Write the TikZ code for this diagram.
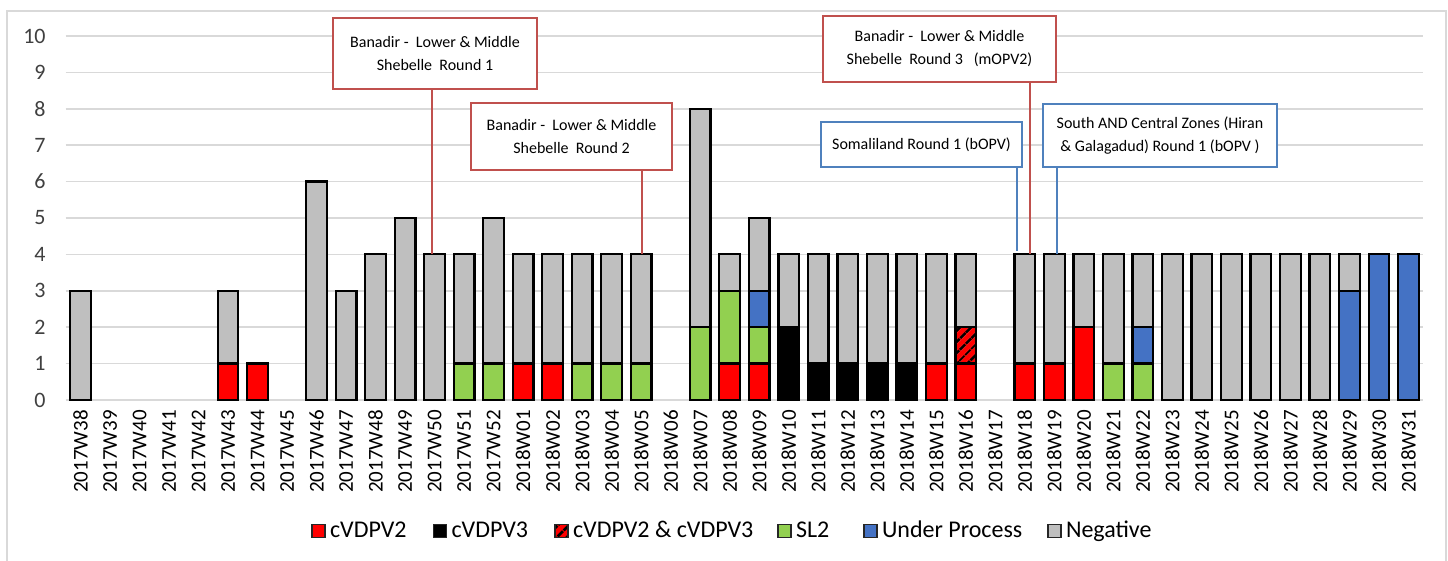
\documentclass[tikz,border=0pt]{standalone}
\usepackage{fontspec}
\setmainfont{Carlito}
\usepackage{tikz}
\usetikzlibrary{positioning}
\usetikzlibrary{patterns.meta}
\usepackage{xcolor}

\definecolor{cvred}{RGB}{255,0,0}
\definecolor{slgreen}{RGB}{146,208,80}
\definecolor{upblue}{RGB}{68,114,196}
\definecolor{neggray}{RGB}{191,191,191}
\definecolor{gridgray}{RGB}{217,217,217}
\definecolor{boxred}{RGB}{192,80,77}
\definecolor{boxblue}{RGB}{79,129,189}

% one piece of a stacked bar: index, bottom, height, style
\newcommand\barpiece[4]{\ifnum#3>0 \draw[piece,#4] (#1-0.35,#2) rectangle (#1+0.35,#2+#3);\fi}

\begin{document}
\begin{tikzpicture}
[x=0.5pt, y=-0.5pt,
% The piece style is used for every part of a stacked bar
piece/.style={draw=black, line width=1.1pt},
redpiece/.style={fill=cvred},
blackpiece/.style={fill=black},
hatchpiece/.style={preaction={fill=cvred}, pattern={Lines[angle=45, distance=4pt, line width=1.5pt]}, pattern color=black},
greenpiece/.style={fill=slgreen},
bluepiece/.style={fill=upblue},
graypiece/.style={fill=neggray},
% The gridline style is used for the value lines
gridline/.style={draw=gridgray, line width=0.8pt},
ylabel/.style={anchor=east, inner sep=0pt, text=black!75, font=\fontsize{11}{13}\selectfont},
weeklabel/.style={rotate=90, anchor=east, inner sep=0pt, font=\fontsize{10.5}{12}\selectfont},
% The campaign style is used to draw the vaccination rounds
campaign/.style={rectangle, line width=1.1pt, fill=white, align=center, inner sep=3pt, font=\fontsize{8}{11.5}\selectfont},
redcamp/.style={campaign, draw=boxred},
bluecamp/.style={campaign, draw=boxblue},
redlead/.style={draw=boxred, line width=1.1pt},
bluelead/.style={draw=boxblue, line width=1.1pt},
% The legend styles
legendbox/.style={rectangle, draw=black!85, line width=0.6pt, minimum size=6.5pt, inner sep=0pt},
legendtext/.style={inner sep=2pt, text height=8.5pt, text depth=2pt, font=\fontsize{12}{14}\selectfont}
]
\useasboundingbox (0,0) rectangle (1448,561);
\draw[black!15, line width=0.6pt] (7,11) rectangle (1446,563);

% Draw chart
\begin{scope}[shift={(80.5,400)}, x=14.755pt, y=18.2pt]
\foreach \v in {0,...,10}{
  \draw[gridline] (-0.5,\v) -- (45.5,\v);
  \node[ylabel] (y\v) at (-1.17,\v) {\v};
}
\foreach \i/\wk/\vred/\vblk/\vhat/\vsl/\vup/\vneg in {
  0/2017W38/0/0/0/0/0/3, 1/2017W39/0/0/0/0/0/0, 2/2017W40/0/0/0/0/0/0,
  3/2017W41/0/0/0/0/0/0, 4/2017W42/0/0/0/0/0/0, 5/2017W43/1/0/0/0/0/2,
  6/2017W44/1/0/0/0/0/0, 7/2017W45/0/0/0/0/0/0, 8/2017W46/0/0/0/0/0/6,
  9/2017W47/0/0/0/0/0/3, 10/2017W48/0/0/0/0/0/4, 11/2017W49/0/0/0/0/0/5,
  12/2017W50/0/0/0/0/0/4, 13/2017W51/0/0/0/1/0/3, 14/2017W52/0/0/0/1/0/4,
  15/2018W01/1/0/0/0/0/3, 16/2018W02/1/0/0/0/0/3, 17/2018W03/0/0/0/1/0/3,
  18/2018W04/0/0/0/1/0/3, 19/2018W05/0/0/0/1/0/3, 20/2018W06/0/0/0/0/0/0,
  21/2018W07/0/0/0/2/0/6, 22/2018W08/1/0/0/2/0/1, 23/2018W09/1/0/0/1/1/2,
  24/2018W10/0/2/0/0/0/2, 25/2018W11/0/1/0/0/0/3, 26/2018W12/0/1/0/0/0/3,
  27/2018W13/0/1/0/0/0/3, 28/2018W14/0/1/0/0/0/3, 29/2018W15/1/0/0/0/0/3,
  30/2018W16/1/0/1/0/0/2, 31/2018W17/0/0/0/0/0/0, 32/2018W18/1/0/0/0/0/3,
  33/2018W19/1/0/0/0/0/3, 34/2018W20/2/0/0/0/0/2, 35/2018W21/0/0/0/1/0/3,
  36/2018W22/0/0/0/1/1/2, 37/2018W23/0/0/0/0/0/4, 38/2018W24/0/0/0/0/0/4,
  39/2018W25/0/0/0/0/0/4, 40/2018W26/0/0/0/0/0/4, 41/2018W27/0/0/0/0/0/4,
  42/2018W28/0/0/0/0/0/4, 43/2018W29/0/0/0/0/3/1, 44/2018W30/0/0/0/0/4/0,
  45/2018W31/0/0/0/0/4/0}{
  \pgfmathtruncatemacro\ya{\vred}
  \pgfmathtruncatemacro\yb{\ya+\vblk}
  \pgfmathtruncatemacro\yc{\yb+\vhat}
  \pgfmathtruncatemacro\yd{\yc+\vsl}
  \pgfmathtruncatemacro\ye{\yd+\vup}
  \barpiece{\i}{0}{\vred}{redpiece}
  \barpiece{\i}{\ya}{\vblk}{blackpiece}
  \barpiece{\i}{\yb}{\vhat}{hatchpiece}
  \barpiece{\i}{\yc}{\vsl}{greenpiece}
  \barpiece{\i}{\yd}{\vup}{bluepiece}
  \barpiece{\i}{\ye}{\vneg}{graypiece}
  \node[weeklabel] (x\i) at (\i,-0.27) {\wk};
}
% bar tops reached by the rounds
\coordinate (tw50) at (11.91,4);
\coordinate (tw05) at (19.03,4);
\coordinate (tw18r) at (32.18,4);
\coordinate (tw18b) at (31.73,4.08);
\coordinate (tw19) at (33.09,4);
\end{scope}

% Draw rounds
\node[redcamp, minimum width=102pt, minimum height=35.5pt] (round1) at (435,53.5)
  {Banadir - ~Lower \& Middle\\Shebelle ~Round 1};
\node[redcamp, minimum width=100.5pt, minimum height=33.5pt] (round2) at (571.5,136.5)
  {Banadir - ~Lower \& Middle\\Shebelle ~Round 2};
\node[redcamp, minimum width=116.5pt, minimum height=33pt] (round3) at (939.5,49)
  {Banadir - ~Lower \& Middle\\Shebelle ~Round 3 ~~(mOPV2)};
\node[bluecamp, minimum width=100.5pt, minimum height=22.5pt] (soml) at (921.5,144.5)
  {Somaliland Round 1 (bOPV)};
\node[bluecamp, minimum width=117pt, minimum height=31.5pt] (south) at (1160,135.5)
  {South AND Central Zones (Hiran\\ \& Galagadud) Round 1 (bOPV )};
\draw[redlead] (round1.south -| tw50) -- (tw50);
\draw[redlead] (round2.south -| tw05) -- (tw05);
\draw[redlead] (round3.south -| tw18r) -- (tw18r);
\draw[bluelead] (soml.south -| tw18b) -- (tw18b);
\draw[bluelead] (south.south -| tw19) -- (tw19);

% Draw legend
\node[legendbox, redpiece] (kred) at (318.5,531) {};
\node[legendtext, right=0pt of kred] (tred) {cVDPV2};
\node[legendbox, blackpiece] (kblk) at (440,531) {};
\node[legendtext, right=0pt of kblk] (tblk) {cVDPV3};
\node[legendbox, hatchpiece] (khat) at (561.5,531) {};
\node[legendtext, right=0pt of khat] (that) {cVDPV2 \& cVDPV3};
\node[legendbox, greenpiece] (ksl) at (784.5,531) {};
\node[legendtext, right=0pt of ksl] (tsl) {SL2};
\node[legendbox, bluepiece] (kup) at (870.5,531) {};
\node[legendtext, right=0pt of kup] (tup) {Under Process};
\node[legendbox, graypiece] (kneg) at (1054.5,531) {};
\node[legendtext, right=0pt of kneg] (tneg) {Negative};
\end{tikzpicture}
\end{document}
